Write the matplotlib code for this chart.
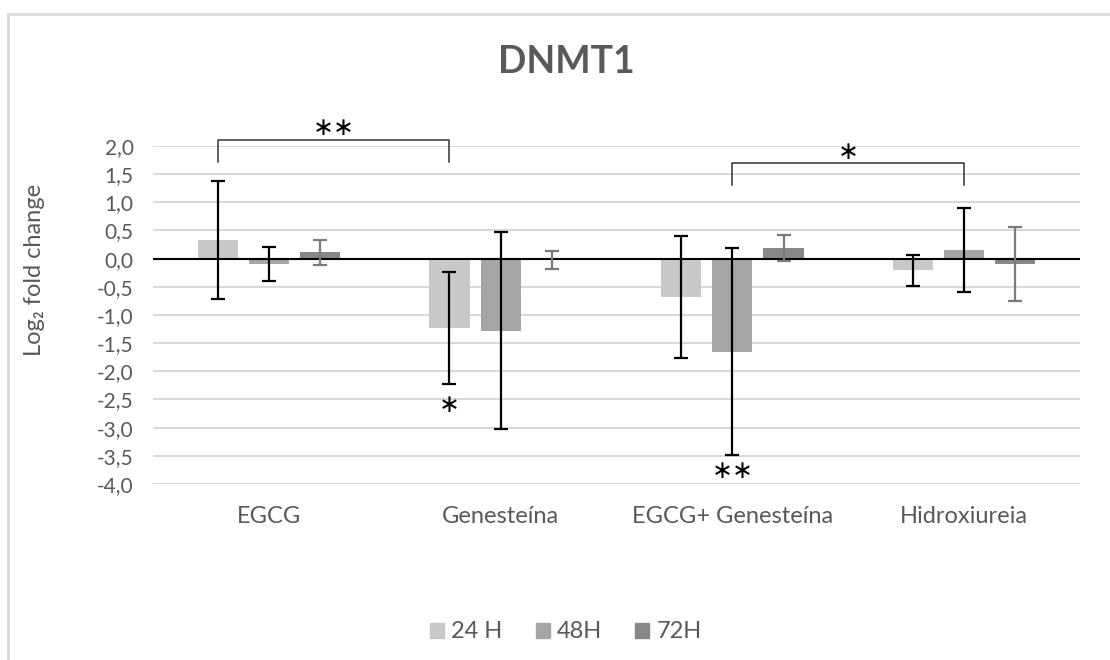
import numpy as np
import matplotlib
matplotlib.use("Agg")
import matplotlib.pyplot as plt
from matplotlib.patches import Rectangle, Patch

plt.rcParams['font.family'] = ['Lato', 'DejaVu Sans']

# dados
categorias = ['EGCG', 'Genesteína', 'EGCG+ Genesteína', 'Hidroxiureia']
series = ['24 H', '48H', '72H']
h24 = [0.33, -1.23, -0.68, -0.21]
h24_err = [1.04, 0.99, 1.08, 0.28]
h48 = [-0.10, -1.28, -1.65, 0.16]
h48_err = [0.30, 1.75, 1.84, 0.745]
h72 = [0.11, -0.02, 0.19, -0.095]
h72_err = [0.225, 0.16, 0.23, 0.665]

# significancia: (categoria i, serie i, categoria j, serie j, y topo, y pontas, texto)
colchetes = [(0, 0, 1, 0, 2.11, 1.72, '∗∗'),
             (2, 1, 3, 1, 1.69, 1.31, '∗')]
# marcas abaixo das barras: (categoria, serie, y, texto)
marcas = [(1, 0, -2.6, '∗'), (2, 1, -3.77, '∗∗')]

cores = ['#c8c8c8', '#a5a5a5', '#878787']
cores_err = ['black', 'black', '#7a7a7a']
cinza_txt = '#595959'

fig = plt.figure(figsize=(11.1, 6.6), dpi=100)
ax = fig.add_axes([153/1110, 1-484/660, 927/1110, 338/660])

x = np.arange(len(categorias))
desl = 0.2208
larg = 0.173
valores = [h24, h48, h72]
erros = [h24_err, h48_err, h72_err]
for k in range(3):
    pos = x + (k-1)*desl
    ax.bar(pos, valores[k], width=larg, color=cores[k], zorder=2, label=series[k])
    ax.errorbar(pos, valores[k], yerr=erros[k], fmt='none', ecolor=cores_err[k],
                elinewidth=1.6, capsize=5, capthick=1.6, zorder=4)

ax.axhline(0, color='black', lw=1.5, zorder=3)

ax.set_ylim(-4.0, 2.0)
ax.set_xlim(-0.5, 3.5)
ax.set_yticks(np.arange(-4.0, 2.01, 0.5))
ax.set_yticklabels([('%.1f' % v).replace('.', ',') for v in np.arange(-4.0, 2.01, 0.5)])
ax.set_xticks(x)
ax.set_xticklabels(categorias)
ax.tick_params(axis='y', length=0, pad=14, labelsize=15, labelcolor=cinza_txt)
ax.tick_params(axis='x', length=0, pad=16, labelsize=17, labelcolor=cinza_txt)
ax.grid(axis='y', color='#d9d9d9', lw=1.5, zorder=0)
ax.set_axisbelow(True)
for s in ax.spines.values():
    s.set_visible(False)

# colchetes de significancia
for ci, si, cj, sj, ytop, yend, txt in colchetes:
    xa = ci + (si-1)*desl
    xb = cj + (sj-1)*desl
    ax.plot([xa, xa, xb, xb], [yend, ytop, ytop, yend], color='#333333', lw=1.1,
            clip_on=False, zorder=5, solid_joinstyle='round')
    ax.text((xa+xb)/2, ytop + 0.21, txt, ha='center', va='center', fontsize=18,
            color='black', family='DejaVu Sans', clip_on=False)

for c, s, yv, txt in marcas:
    ax.text(c + (s-1)*desl, yv, txt, ha='center', va='center', fontsize=18,
            color='black', family='DejaVu Sans')

fig.text(566/1110, 1-62/660, 'DNMT1', ha='center', va='center', fontsize=27,
         fontweight='bold', color=cinza_txt)
fig.text(35/1110, 1-270/660, 'Log₂ fold change', rotation=90, ha='center', va='center',
         fontsize=17, color=cinza_txt)

handles = [Patch(color=cores[k], label=series[k]) for k in range(3)]
fig.legend(handles=handles, loc='center', bbox_to_anchor=(566/1110, 1-632/660), ncol=3,
           frameon=False, fontsize=17, handlelength=0.6, handleheight=0.6,
           handletextpad=0.3, columnspacing=1.4, labelcolor=cinza_txt)

# moldura do grafico
fig.patches.append(Rectangle((8/1110, -0.2), 1.3, 1.2 - 14/660, transform=fig.transFigure,
                             fill=False, edgecolor='#d9d9d9', lw=2))

fig.savefig('out.png', dpi=100)
